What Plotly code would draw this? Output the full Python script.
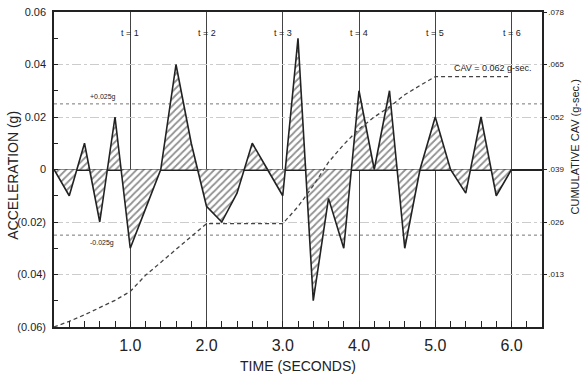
import plotly.graph_objects as go

# ---- data ----
time_s = [0.0, 0.2, 0.4, 0.6, 0.8, 1.0, 1.2, 1.4, 1.6, 1.8, 2.0, 2.2, 2.4, 2.6, 2.8,
          3.0, 3.2, 3.4, 3.6, 3.8, 4.0, 4.2, 4.4, 4.6, 4.8, 5.0, 5.2, 5.4, 5.6, 5.8, 6.0]
accel_g = [0.0, -0.01, 0.01, -0.02, 0.02, -0.03, -0.015, 0.0, 0.04, 0.01, -0.014, -0.02,
           -0.009, 0.01, 0.0, -0.01, 0.05, -0.05, -0.011, -0.03, 0.03, 0.0, 0.03, -0.03,
           0.0, 0.02, 0.0, -0.009, 0.02, -0.01, 0.0]
cav_gsec = [0.0, 0.0014, 0.003, 0.0047, 0.0066, 0.0088, 0.0128, 0.016, 0.0192, 0.0225,
            0.0256, 0.0256, 0.0256, 0.0256, 0.0256, 0.0256, 0.0298, 0.035, 0.0408, 0.0452,
            0.049, 0.052, 0.0545, 0.0575, 0.0598, 0.062, 0.062, 0.062, 0.062, 0.062, 0.062]

x_tick_vals = [1, 2, 3, 4, 5, 6]
x_tick_text = ["1.0", "2.0", "3.0", "4.0", "5.0", "6.0"]
second_labels = ["t = 1", "t = 2", "t = 3", "t = 4", "t = 5", "t = 6"]
y_tick_vals = [0.06, 0.04, 0.02, 0.0, -0.02, -0.04, -0.06]
y_tick_text = ["0.06", "0.04", "0.02", "0", "(0.02)", "(0.04)", "(0.06)"]
y2_tick_vals = [0.013, 0.026, 0.039, 0.052, 0.065, 0.078]
y2_tick_text = [".013", ".026", ".039", ".052", ".065", ".078"]
threshold = [0.025, -0.025]
threshold_text = ["+0.025g", "-0.025g"]
cav_total_text = "CAV = 0.062 g-sec."

FONT = "Liberation Sans, Arial, sans-serif"
DARK = "#222222"

fig = go.Figure()

fig.add_trace(go.Scatter(
    x=time_s, y=accel_g, mode="lines", fill="tozeroy",
    line=dict(color=DARK, width=1.6),
    fillcolor="rgba(0,0,0,0)",
    fillpattern=dict(shape="/", fgcolor="#222222", bgcolor="white", size=5, solidity=0.35),
    showlegend=False, hoverinfo="skip",
))

fig.add_trace(go.Scatter(
    x=time_s, y=cav_gsec, mode="lines", yaxis="y2",
    line=dict(color="#444444", width=1.3, dash="4px,3px"),
    showlegend=False, hoverinfo="skip",
))

# threshold lines
for v, txt in zip(threshold, threshold_text):
    fig.add_shape(type="line", xref="paper", x0=0, x1=1, yref="y", y0=v, y1=v,
                  line=dict(color="#777777", width=1, dash="dot"), layer="below")
    fig.add_annotation(x=0.07, xref="paper", y=v, yref="y", text=txt, showarrow=False,
                       font=dict(family=FONT, size=7, color=DARK),
                       xanchor="left", yanchor="bottom" if v > 0 else "top",
                       yshift=1 if v > 0 else -2)

# second markers labels
for xv, txt in zip(x_tick_vals, second_labels):
    fig.add_annotation(x=xv, xref="x", y=0.955, yref="paper", text=txt, showarrow=False,
                       font=dict(family=FONT, size=9, color=DARK), xanchor="center")

fig.add_annotation(x=6.3, xref="x", y=cav_gsec[-1], yref="y2", text=cav_total_text,
                   showarrow=False, font=dict(family=FONT, size=9, color=DARK),
                   xanchor="right", yanchor="bottom", yshift=2)

# axis titles as annotations
fig.add_annotation(x=(13 - 54) / 488, xref="paper", y=0.48, yref="paper",
                   text="ACCELERATION (g)", textangle=-90, showarrow=False,
                   xanchor="center", yanchor="middle",
                   font=dict(family=FONT, size=14, color=DARK))
fig.add_annotation(x=(575 - 54) / 488, xref="paper", y=0.57, yref="paper",
                   text="CUMULATIVE CAV (g-sec.)", textangle=-90, showarrow=False,
                   xanchor="center", yanchor="middle",
                   font=dict(family=FONT, size=11, color=DARK))

fig.update_layout(
    width=587, height=387,
    margin=dict(l=54, r=45, t=6, b=60),
    paper_bgcolor="white", plot_bgcolor="white",
    font=dict(family=FONT, color=DARK),
    xaxis=dict(
        range=[0, 6.4], tickvals=x_tick_vals, ticktext=x_tick_text,
        ticks="inside", ticklen=6, tickcolor=DARK,
        minor=dict(dtick=0.2, tick0=0, ticks="inside", ticklen=6, tickcolor=DARK, showgrid=False),
        showgrid=True, gridcolor="#444444", gridwidth=1.3,
        showline=True, linecolor=DARK, linewidth=1.5, mirror=True,
        zeroline=False, tickfont=dict(family=FONT, size=16, color=DARK),
        ticklabelstandoff=3,
        title=dict(text="TIME (SECONDS)", font=dict(family=FONT, size=14, color=DARK), standoff=8),
    ),
    yaxis=dict(
        range=[-0.06, 0.06], tickvals=y_tick_vals, ticktext=y_tick_text,
        ticks="inside", ticklen=4, tickcolor=DARK,
        minor=dict(dtick=0.01, tick0=0, ticks="inside", ticklen=4, tickcolor=DARK, showgrid=False),
        showgrid=True, gridcolor="#cccccc", gridwidth=1, griddash="dashdot",
        zeroline=True, zerolinecolor=DARK, zerolinewidth=1.5,
        showline=True, linecolor=DARK, linewidth=1.5,
        tickfont=dict(family=FONT, size=11, color=DARK), ticklabelstandoff=4,
    ),
    yaxis2=dict(
        range=[0, 0.078], tickvals=y2_tick_vals, ticktext=y2_tick_text,
        overlaying="y", side="right", ticks="outside", ticklen=3, tickcolor=DARK,
        showgrid=False, zeroline=False,
        showline=True, linecolor=DARK, linewidth=1.5,
        tickfont=dict(family=FONT, size=8, color=DARK),
    ),
)

fig.write_html("out.html")
